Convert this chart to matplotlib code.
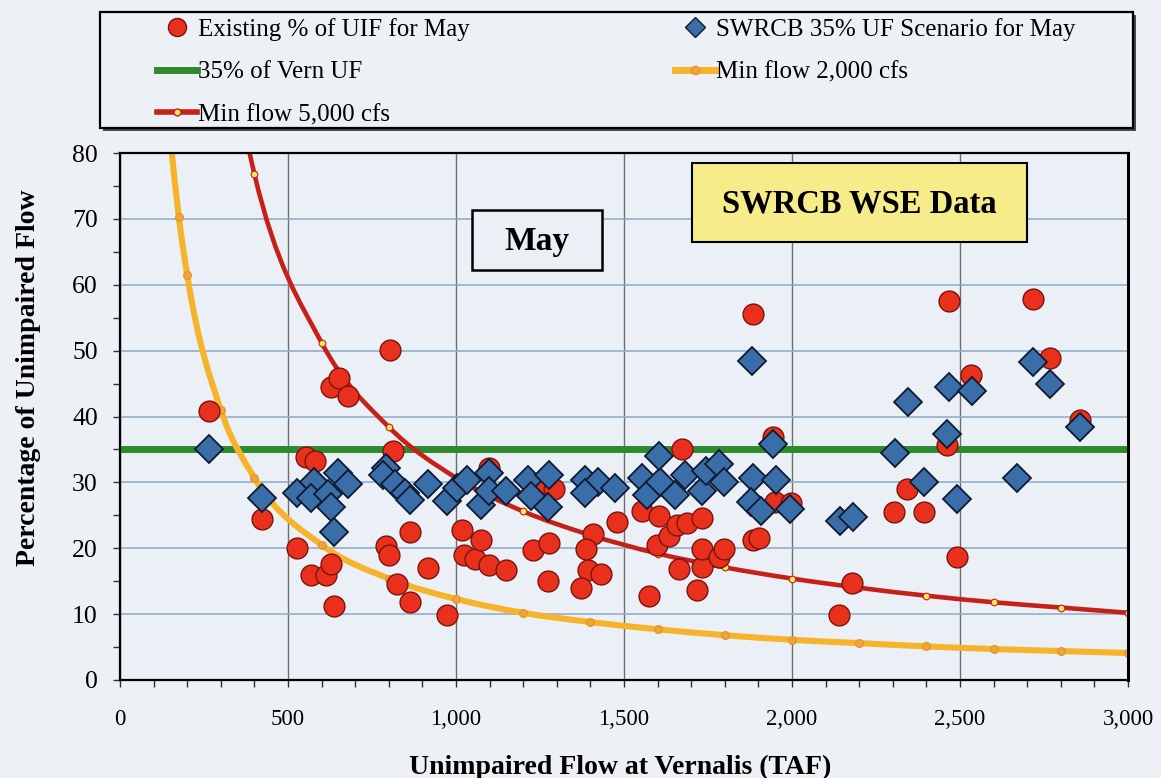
import numpy as np
import matplotlib.pyplot as plt
from matplotlib.path import Path
from matplotlib.patches import PathPatch, Rectangle
from matplotlib.lines import Line2D
from matplotlib.ticker import MultipleLocator, FuncFormatter

plt.rcParams["font.family"] = ["Liberation Serif", "DejaVu Serif"]

# existing % of UIF for May (red circles)
exist_x = [265, 423, 526, 553, 581, 568, 613, 628, 638, 628, 653, 678, 803, 813, 793, 800,
           863, 823, 863, 918, 973, 1018, 1023, 1058, 1098, 1148, 1073, 1098, 1228, 1278,
           1273, 1253, 1293, 1478, 1408, 1388, 1393, 1433, 1373, 1553, 1603, 1598, 1633,
           1658, 1688, 1733, 1573, 1663, 1733, 1733, 1783, 1798, 1718, 1883, 1903, 1948,
           1673, 1883, 1943, 1998, 2140, 2180, 2304, 2394, 2342, 2462, 2467, 2490, 2534,
           2717, 2767, 2857]
exist_y = [40.8, 24.5, 20.0, 33.9, 33.2, 15.9, 15.9, 17.6, 11.3, 44.5, 45.8, 43.1, 50.1, 34.7,
           20.3, 18.9, 22.4, 14.6, 11.8, 17.0, 9.9, 22.7, 18.9, 18.3, 17.5, 16.7, 21.3, 32.2,
           19.7, 20.8, 15.0, 29.2, 29.0, 24.0, 22.1, 19.9, 16.7, 16.1, 13.9, 25.7, 24.9, 20.5,
           21.9, 23.5, 23.8, 24.6, 12.8, 16.9, 17.2, 19.9, 18.6, 19.9, 13.7, 21.3, 21.6, 27.0,
           35.1, 55.6, 36.9, 26.8, 9.8, 14.8, 25.5, 25.5, 29.0, 35.6, 57.5, 18.6, 46.3,
           57.8, 48.9, 39.5]

# SWRCB 35% UF scenario for May (blue diamonds)
swrcb_x = [266, 423, 528, 578, 568, 618, 648, 678, 628, 638, 793, 783, 818, 848, 863, 918,
           973, 1003, 1033, 1098, 1073, 1098, 1148, 1213, 1278, 1223, 1273, 1383, 1423, 1473,
           1383, 1553, 1568, 1608, 1653, 1683, 1733, 1743, 1783, 1798, 1883, 1953, 1878,
           1908, 1995, 1603, 1881, 1943, 2142, 2182, 2307, 2344, 2394, 2462, 2467, 2490,
           2537, 2670, 2717, 2767, 2857]
swrcb_y = [35.1, 27.6, 28.4, 30.0, 27.6, 28.2, 31.4, 29.8, 26.2, 22.4, 32.2, 31.1, 29.8, 28.4,
           27.3, 29.8, 27.1, 29.2, 30.3, 31.4, 26.5, 28.7, 28.7, 30.3, 31.1, 27.9, 26.2, 30.3,
           30.1, 29.2, 28.4, 30.6, 28.1, 30.1, 28.1, 31.1, 28.7, 31.7, 32.8, 30.1, 30.6, 30.3,
           27.0, 25.7, 26.0, 34.0, 48.4, 35.8, 24.2, 24.7, 34.4, 42.2, 30.1, 37.3, 44.5, 27.5,
           43.9, 30.6, 48.3, 45.0, 38.4]

# 35% of Vern UF
vern_x = [0, 3000]
vern_y = [35, 35]

# min flow curves (first point of each lies above the plot)
min2000_x = [150, 175, 200, 300, 400, 600, 800, 1000, 1200, 1400, 1600, 1800, 2000,
             2200, 2400, 2600, 2800, 3000]
min2000_y = [82.0, 70.3, 61.5, 41.0, 30.7, 20.5, 15.4, 12.3, 10.2, 8.8, 7.7, 6.8, 6.1,
             5.6, 5.1, 4.7, 4.4, 4.1]
min5000_x = [300, 400, 600, 800, 1000, 1200, 1400, 1600, 1800, 2000, 2200, 2400, 2600,
             2800, 3000]
min5000_y = [102.5, 76.8, 51.2, 38.4, 30.7, 25.6, 22.0, 19.2, 17.1, 15.4, 14.0, 12.8, 11.8,
             11.0, 10.2]

RED = "#e8301c"
BLUE = "#3a6ea8"
GREEN = "#2e8a2c"
YELLOW = "#f6b42c"
DKRED = "#c62018"
BG = "#edf1f5"


def smooth_path(xs, ys):
    # smoothed line drawn as cubic bezier segments (hermite in x)
    xs = np.asarray(xs, float)
    ys = np.asarray(ys, float)
    n = len(xs)
    h = np.diff(xs)
    d = np.diff(ys) / h
    m = np.empty(n)
    m[0], m[-1] = d[0], d[-1]
    for i in range(1, n - 1):
        m[i] = (h[i] * d[i - 1] + h[i - 1] * d[i]) / (h[i - 1] + h[i])
    verts = [(xs[0], ys[0])]
    codes = [Path.MOVETO]
    for i in range(n - 1):
        c1 = (xs[i] + h[i] / 3, ys[i] + m[i] * h[i] / 3)
        c2 = (xs[i + 1] - h[i] / 3, ys[i + 1] - m[i + 1] * h[i] / 3)
        verts += [c1, c2, (xs[i + 1], ys[i + 1])]
        codes += [Path.CURVE4] * 3
    return Path(verts, codes)


W, H = 1161, 778
fig = plt.figure(figsize=(W / 100, H / 100), dpi=100, facecolor=BG)
ax = fig.add_axes([120 / W, (H - 680) / H, 1008 / W, 527 / H])
ax.set_facecolor("#eaf0f6")

ax.set_xlim(0, 3000)
ax.set_ylim(0, 80)
ax.xaxis.set_major_locator(MultipleLocator(500))
ax.xaxis.set_minor_locator(MultipleLocator(100))
ax.yaxis.set_major_locator(MultipleLocator(10))
ax.yaxis.set_minor_locator(MultipleLocator(5))
ax.xaxis.set_major_formatter(FuncFormatter(lambda v, p: f"{int(v):,}"))
ax.tick_params(axis="both", which="both", direction="out", length=5, width=1, color="#333333")
ax.tick_params(axis="x", which="major", labelsize=16.5, pad=16)
ax.tick_params(axis="y", which="major", labelsize=18.5, pad=11)

ax.grid(axis="y", which="major", color="#8ea8c6", lw=1.1, zorder=0)
ax.grid(axis="x", which="major", color="#6e6e6e", lw=1.0, zorder=0)
for s in ax.spines.values():
    s.set_linewidth(1.6)
    s.set_color("black")
ax.spines["right"].set_linewidth(2.2)

# lines
ax.plot(vern_x, vern_y, color=GREEN, lw=5, zorder=2, solid_capstyle="butt")
ax.add_patch(PathPatch(smooth_path(min2000_x, min2000_y), fill=False, edgecolor=YELLOW, lw=4.4, zorder=2))
ax.plot(min2000_x, min2000_y, ls="none", marker="o", ms=5.5, mfc="#f0a43a", mec="#e8962a", zorder=2)
ax.add_patch(PathPatch(smooth_path(min5000_x, min5000_y), fill=False, edgecolor=DKRED, lw=3.3, zorder=2))
ax.plot(min5000_x, min5000_y, ls="none", marker="o", ms=4.8, mfc="#f7ea5a", mec=DKRED, mew=0.8, zorder=2)

# points
ax.plot(exist_x, exist_y, ls="none", marker="o", ms=15, mfc=RED, mec="#7a1410", mew=1.0, zorder=3)
ax.plot(swrcb_x, swrcb_y, ls="none", marker="D", ms=14, mfc=BLUE, mec="#0e1a30", mew=1.3, zorder=4)

ax.set_xlabel("Unimpaired Flow at Vernalis (TAF)", fontsize=20, fontweight="bold", va="top")
ax.xaxis.set_label_coords(0.496, -0.142)
ax.set_ylabel("Percentage of Unimpaired Flow", fontsize=20, fontweight="bold")
ax.yaxis.set_label_coords(-0.078, 0.573)

# text boxes
ax.add_patch(Rectangle((1048, 62.3), 387, 9.0, facecolor="#eaf0f6", edgecolor="black", lw=1.8, zorder=5))
ax.text(1241, 66.6, "May", ha="center", va="center", fontsize=24, fontweight="bold", zorder=6)
ax.add_patch(Rectangle((1703, 66.5), 995, 12.0, facecolor="#f6ec8a", edgecolor="black", lw=1.5, zorder=5))
ax.text(2200, 72.3, "SWRCB WSE Data", ha="center", va="center", fontsize=23.5, fontweight="bold", zorder=6)

# legend box with shadow
fig.add_artist(Rectangle((103 / W, 1 - 131 / H), 1033 / W, 116 / H, transform=fig.transFigure,
                         facecolor="#4a4a4a", edgecolor="none", zorder=0))
fig.add_artist(Rectangle((100 / W, 1 - 128 / H), 1033 / W, 116 / H, transform=fig.transFigure,
                         facecolor=BG, edgecolor="black", lw=1.6, zorder=1))

h_exist = Line2D([], [], ls="none", marker="o", ms=13, mfc=RED, mec="#7a1410")
h_swrcb = Line2D([], [], ls="none", marker="D", ms=10, mfc=BLUE, mec="#0e1a30")
h_vern = Line2D([], [], color=GREEN, lw=5)
h_2000 = Line2D([], [], color=YELLOW, lw=5, marker="o", ms=6, mfc="#f0a43a", mec="#e8962a")
h_5000 = Line2D([], [], color=DKRED, lw=4, marker="o", ms=5, mfc="#f7ea5a", mec=DKRED)

leg_kw = dict(frameon=False, loc="upper left", prop={"size": 18}, handlelength=1.6,
              handletextpad=0.05, labelspacing=0.8, borderpad=0, borderaxespad=0)
leg1 = fig.legend([h_exist, h_vern, h_5000],
                  ["Existing % of UIF for May", "35% of Vern UF", "Min flow 5,000 cfs"],
                  bbox_to_anchor=(157 / W, 1 - 18 / H), **leg_kw)
leg2 = fig.legend([h_swrcb, h_2000],
                  ["SWRCB 35% UF Scenario for May", "Min flow 2,000 cfs"],
                  bbox_to_anchor=(675 / W, 1 - 18 / H), **leg_kw)
leg1.set_zorder(3)
leg2.set_zorder(3)

fig.savefig("out.png", dpi=100, facecolor=BG)
